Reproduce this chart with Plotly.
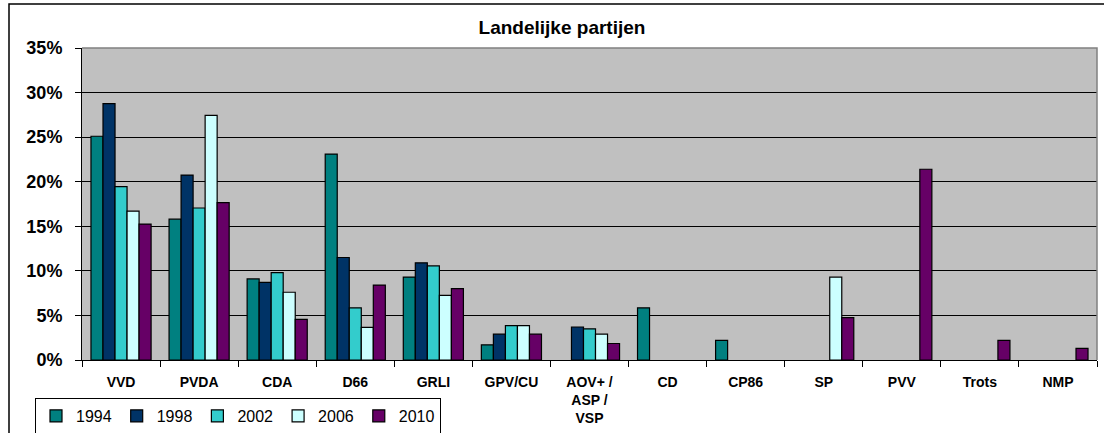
import plotly.graph_objects as go

categories = ["VVD", "PVDA", "CDA", "D66", "GRLI", "GPV/CU", "AOV+ /<br>ASP /<br>VSP",
              "CD", "CP86", "SP", "PVV", "Trots", "NMP"]
years = ["1994", "1998", "2002", "2006", "2010"]
v1994 = [25.1, 15.8, 9.1, 23.1, 9.3, 1.7, None, 5.85, 2.2, None, None, None, None]
v1998 = [28.75, 20.75, 8.7, 11.5, 10.9, 2.9, 3.7, None, None, None, None, None, None]
v2002 = [19.45, 17.05, 9.8, 5.85, 10.55, 3.85, 3.5, None, None, None, None, None, None]
v2006 = [16.7, 27.45, 7.6, 3.65, 7.25, 3.85, 2.9, None, None, 9.3, None, None, None]
v2010 = [15.25, 17.65, 4.55, 8.4, 8.0, 2.9, 1.85, None, None, 4.75, 21.4, 2.2, 1.3]
series = [v1994, v1998, v2002, v2006, v2010]
colors = ["#008080", "#003366", "#33CCCC", "#CCFFFF", "#660066"]

FONT = "Arial, Liberation Sans, sans-serif"

fig = go.Figure()
for name, vals, col in zip(years, series, colors):
    fig.add_trace(go.Bar(
        x=categories, y=vals, name=name,
        marker=dict(color=col, line=dict(color="black", width=1.2)),
    ))

W, H = 1104, 433
L, R, T, B = 82, 7, 48, 73
pw, ph = W - L - R, H - T - B

def px(x):
    return (x - L) / pw

def py(y):
    return (H - B - y) / ph

fig.update_layout(
    width=W, height=H,
    margin=dict(l=L, r=R, t=T, b=B, autoexpand=False),
    barmode="group", bargap=0.23, bargroupgap=0,
    plot_bgcolor="#C0C0C0", paper_bgcolor="white",
    font=dict(family=FONT, color="black"),
    title=dict(text="<b>Landelijke partijen</b>", font=dict(size=19, family=FONT, color="black"),
               x=px(562), xref="paper", xanchor="center",
               y=1 - 27 / H, yref="container", yanchor="middle"),
    legend=dict(orientation="h", xref="container", yref="container",
                x=35 / W, y=1 - 398 / H, xanchor="left", yanchor="top",
                bordercolor="black", borderwidth=1, bgcolor="white",
                font=dict(size=16, family=FONT), itemwidth=30,
                traceorder="normal"),
    showlegend=True,
)
fig.update_xaxes(
    type="category", showline=True, linecolor="black", linewidth=1,
    ticks="outside", tickson="boundaries", ticklen=6, tickcolor="black",
    tickfont=dict(size=14, family=FONT), ticklabelstandoff=9,
    showgrid=False, mirror=False, automargin=False,
    tickprefix="<b>", ticksuffix="</b>",
)
fig.update_yaxes(
    range=[0, 35], dtick=5, tick0=0, ticksuffix="%", tickprefix="<b>",
    showline=True, linecolor="black", linewidth=1,
    ticks="outside", ticklen=6, tickcolor="black",
    tickfont=dict(size=18, family=FONT), ticklabelstandoff=9,
    showgrid=True, gridcolor="black", gridwidth=1, zeroline=False,
    automargin=False,
)
# plot-area border (top and right, grey) and outer chart border
fig.add_shape(type="path", xref="paper", yref="paper",
              path="M 0 1 L 1 1 L 1 0", line=dict(color="#808080", width=1.5), layer="above")
fig.add_shape(type="path", xref="paper", yref="paper",
              path=f"M {px(9)} {py(445)} L {px(9)} {py(4)} L {px(1110)} {py(4)}",
              line=dict(color="black", width=1.5), layer="above")

fig.write_html("out.html", config={"displayModeBar": False},
               post_script="document.body.style.margin='0';")
